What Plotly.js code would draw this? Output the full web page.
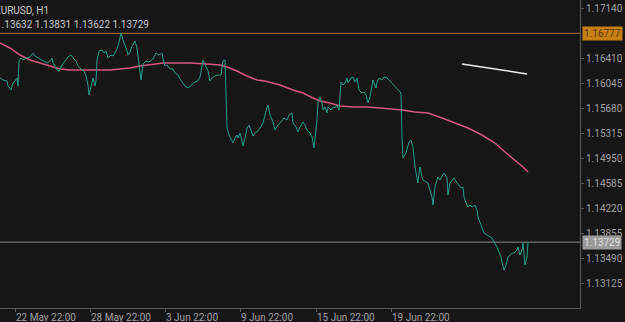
<!DOCTYPE html>
<html>
<head>
<meta charset="utf-8">
<script src="https://cdn.plot.ly/plotly-3.0.1.min.js"></script>
<style>html,body{margin:0;padding:0;background:#161616;}#chart{width:625px;height:322px;}</style>
</head>
<body>
<div id="chart"></div>
<script>
// Bar index (hour-bars, chart scale) and close prices
const bar = [0,3,7,8,11,13,15,17,18,19,21,23,27,30,33,35,38,42,43,47,50,52,53,57,59,62,65,68,71,73,76,78,82,84,86,88,89,91,93,95,96,97,99,102,104,106,108,111,113,116,118,120,121,123,125,127,128,130,132,134,135,137,139,141,143,146,149,153,156,159,162,163,165,167,170,173,175,178,180,183,185,188,192,195,198,200,203,205,208,210,212,215,218,221,223,225,226,227,229,231,233,235,237,238,240,242,243,245,247,249,251,253,255,258,260,263,267,268,270,273,275,278,281,284,287,289,292,293,296,298,300,303,305,307,310,312,314,315,317,318,320,322,323,325,327,328,331,333,335,337,339,341,343,345,347,348,351,353,355,357,359,362,364,366,368,370,372,373,376,377,379,382,384,387,389,392,394,396,398,400,401,402,403,406,408,409,411,412,413,415,417,418,419,420,422,423,426,428,429,432,433,435,437,438,440,442,444,447,448,450,452,454,457,459,461,463,464,466,468,470,472,475,477,478,480,482,484,487,490,492,494,497,499,501,502,504,506,508,510,512,514,517,518,520,522,523,525,527,528];
const close = [1.16125,1.16096,1.16082,1.16009,1.15950,1.16052,1.16082,1.16125,1.16009,1.16374,1.16418,1.16388,1.16418,1.16432,1.16490,1.16447,1.16418,1.16388,1.16374,1.16344,1.16374,1.16418,1.16344,1.16242,1.16228,1.16315,1.16374,1.16432,1.16461,1.16418,1.16374,1.16301,1.16242,1.16228,1.16155,1.16023,1.15877,1.16009,1.16125,1.16009,1.16082,1.16374,1.16520,1.16534,1.16490,1.16520,1.16418,1.16461,1.16447,1.16520,1.16592,1.16709,1.16782,1.16680,1.16607,1.16520,1.16461,1.16505,1.16592,1.16651,1.16665,1.16563,1.16359,1.16096,1.16330,1.16374,1.16359,1.16403,1.16490,1.16461,1.16490,1.16403,1.16301,1.16315,1.16257,1.16257,1.16198,1.16169,1.16111,1.16052,1.16009,1.15980,1.16038,1.16067,1.16082,1.16140,1.16388,1.16330,1.16228,1.16082,1.16125,1.16155,1.16169,1.16169,1.16374,1.16388,1.15980,1.15395,1.15293,1.15220,1.15176,1.15249,1.15293,1.15249,1.15322,1.15206,1.15133,1.15249,1.15395,1.15439,1.15366,1.15278,1.15322,1.15352,1.15395,1.15468,1.15702,1.15731,1.15585,1.15483,1.15366,1.15439,1.15483,1.15541,1.15512,1.15585,1.15614,1.15468,1.15410,1.15337,1.15410,1.15483,1.15439,1.15366,1.15322,1.15264,1.15104,1.15220,1.15512,1.15775,1.15848,1.15761,1.15658,1.15702,1.15614,1.15702,1.15658,1.15702,1.15688,1.15731,1.15658,1.16067,1.16023,1.16052,1.16125,1.16052,1.16125,1.16140,1.16067,1.16125,1.15950,1.15906,1.15921,1.15877,1.15761,1.15848,1.15994,1.16096,1.15980,1.16067,1.16125,1.16096,1.16140,1.16125,1.16096,1.16052,1.16023,1.15980,1.15965,1.15936,1.15906,1.15264,1.14957,1.15030,1.15118,1.15191,1.15220,1.15176,1.15118,1.14826,1.14666,1.14592,1.14738,1.14826,1.14680,1.14636,1.14607,1.14592,1.14534,1.14388,1.14271,1.14534,1.14636,1.14680,1.14636,1.14680,1.14738,1.14666,1.14417,1.14592,1.14636,1.14666,1.14592,1.14563,1.14520,1.14534,1.14388,1.14301,1.14242,1.14271,1.14242,1.14271,1.14198,1.14096,1.14023,1.13950,1.13862,1.13833,1.13804,1.13789,1.13731,1.13658,1.13585,1.13512,1.13439,1.13322,1.13395,1.13512,1.13541,1.13570,1.13570,1.13614,1.13658,1.13541,1.13614,1.13716,1.13395,1.13512,1.13729];

// Moving average
const maBar = [0,10,20,30,40,50,60,70,83,97,110,120,130,140,150,163,173,190,207,220,227,237,247,257,265,280,293,303,313,320,330,340,353,367,380,393,402,415,428,442,455,468,482,495,505,515,523,528];
const maVal = [1.16636,1.16563,1.16461,1.16388,1.16344,1.16301,1.16257,1.16242,1.16242,1.16242,1.16242,1.16257,1.16271,1.16301,1.16315,1.16344,1.16344,1.16344,1.16330,1.16315,1.16286,1.16228,1.16155,1.16096,1.16082,1.16023,1.15950,1.15906,1.15833,1.15790,1.15761,1.15717,1.15702,1.15702,1.15688,1.15673,1.15658,1.15629,1.15614,1.15541,1.15468,1.15395,1.15293,1.15176,1.15045,1.14928,1.14826,1.14753];

// Trend segment
const trendBar = [462,527];
const trendVal = [1.16330,1.16184];

// Levels
const levelHigh = 1.16777;
const levelLast = 1.13729;

// Axis ticks
const xTickPos = [15,90,165,240,316,391];
const xTickText = ["22 May 22:00","28 May 22:00","3 Jun 22:00","9 Jun 22:00","15 Jun 22:00","19 Jun 22:00"];
const yTicks = [1.17140,1.16410,1.16045,1.15680,1.15315,1.14950,1.14585,1.14220,1.13855,1.13490,1.13125];

const symbol = "EURUSD, H1";
const ohlc = ["1.13632","1.13831","1.13622","1.13729"];

const traces = [
  {x: maBar, y: maVal, type:'scatter', mode:'lines', line:{color:'#d4587f', width:1.5}, hoverinfo:'skip'},
  {x: bar, y: close, type:'scatter', mode:'lines', line:{color:'#21a08c', width:1}, hoverinfo:'skip'},
  {x: trendBar, y: trendVal, type:'scatter', mode:'lines', line:{color:'#ececec', width:1.5}, hoverinfo:'skip'}
];

const layout = {
  width:625, height:322, autosize:false,
  margin:{l:0, r:45, t:0, b:14, pad:0},
  paper_bgcolor:'#161616', plot_bgcolor:'#161616',
  showlegend:false,
  font:{family:'Roboto, sans-serif', size:10, color:'#a0a0a0'},
  xaxis:{range:[0,580], tickvals:xTickPos, ticktext:xTickText, ticks:'outside', ticklen:3, tickcolor:'#5a5a5a',
         ticklabelposition:'outside right', showgrid:false, zeroline:false, showline:true, linecolor:'#5a5a5a', linewidth:1,
         tickfont:{family:'Roboto, sans-serif', size:10, color:'#a0a0a0'}, fixedrange:true},
  yaxis:{range:[1.12767,1.17264], side:'right', tickvals:yTicks, ticktext:yTicks.map(v=>v.toFixed(5)),
         ticks:'outside', ticklen:3, tickcolor:'#5a5a5a', showgrid:false, zeroline:false, showline:true,
         linecolor:'#5a5a5a', linewidth:1, tickfont:{family:'Roboto, sans-serif', size:10, color:'#a0a0a0'}, fixedrange:true},
  shapes:[
    {type:'line', xref:'paper', x0:0, x1:1, yref:'y', y0:levelHigh, y1:levelHigh, line:{color:'#b4700e', width:1}, layer:'below'},
    {type:'line', xref:'paper', x0:0, x1:1, yref:'y', y0:levelLast, y1:levelLast, line:{color:'#8a8a8a', width:1}, layer:'below'}
  ],
  annotations:[
    {xref:'paper', yref:'y', x:1, xshift:2, xanchor:'left', y:levelHigh, text:levelHigh.toFixed(5), showarrow:false,
     bgcolor:'#c67f12', borderpad:1, font:{family:'Roboto, sans-serif', size:10, color:'#5a3a0a'}},
    {xref:'paper', yref:'y', x:1, xshift:2, xanchor:'left', y:levelLast, text:levelLast.toFixed(5), showarrow:false,
     bgcolor:'#9a9a9a', borderpad:1, font:{family:'Roboto, sans-serif', size:10, color:'#dedede'}},
    {xref:'paper', yref:'paper', x:0, xshift:-7, xanchor:'left', y:1, yshift:-3, yanchor:'top', text:symbol, showarrow:false,
     font:{family:'Roboto, sans-serif', size:10, color:'#c8c8c8'}},
    {xref:'paper', yref:'paper', x:0, xshift:-6, xanchor:'left', y:1, yshift:-17, yanchor:'top', text:ohlc.join(' '), showarrow:false,
     font:{family:'Roboto, sans-serif', size:10, color:'#c8c8c8'}}
  ]
};

Plotly.newPlot('chart', traces, layout, {staticPlot:true, displayModeBar:false});
</script>
</body>
</html>
